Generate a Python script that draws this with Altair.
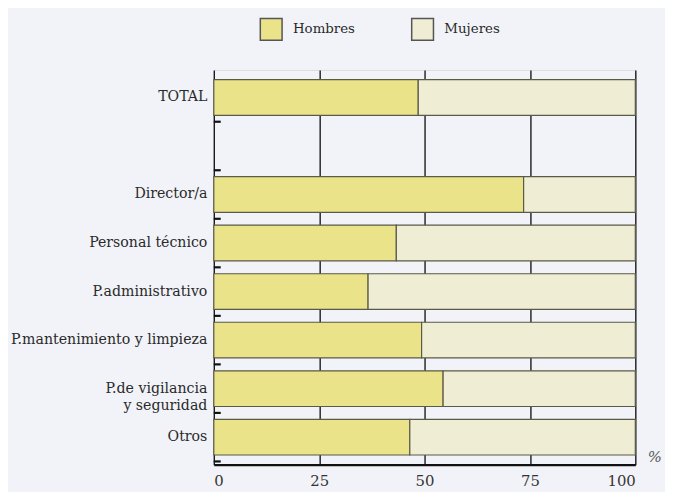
import altair as alt
import pandas as pd

categories = ["TOTAL", " ", "Director/a", "Personal técnico", "P.administrativo",
              "P.mantenimiento y limpieza", "P.de vigilancia y seguridad", "Otros"]
hombres = [48.5, None, 73.5, 43.3, 36.6, 49.3, 54.4, 46.5]
mujeres = [51.5, None, 26.5, 56.7, 63.4, 50.7, 45.6, 53.5]
series = ["Hombres", "Mujeres"]
colors = ["#ebe38a", "#efeed5"]
x_ticks = [0, 25, 50, 75, 100]

rows = []
for c, h, m in zip(categories, hombres, mujeres):
    if h is None:
        continue
    rows.append({"cat": c, "serie": "Hombres", "val": h, "idx": 0})
    rows.append({"cat": c, "serie": "Mujeres", "val": m, "idx": 1})
df = pd.DataFrame(rows)
ticks_df = pd.DataFrame({"cat": categories})

SERIF = "DejaVu Serif"

y_scale = alt.Scale(domain=categories, paddingInner=0.265, paddingOuter=0.2)

label_expr = ("datum.value == 'P.de vigilancia y seguridad' ? "
              "['P.de vigilancia', 'y seguridad'] : datum.value")

bars = alt.Chart(df).mark_bar(stroke="#5a5a48", strokeWidth=1.2).encode(
    y=alt.Y("cat:N", scale=y_scale, sort=categories, title=None,
            axis=alt.Axis(labelExpr=label_expr, labelFont=SERIF, labelFontSize=14.3,
                          labelColor="#2a2a2a", labelPadding=7, ticks=False,
                          domain=False, labelLineHeight=18, labelLimit=300)),
    x=alt.X("val:Q", stack="zero", scale=alt.Scale(domain=[0, 100], nice=False),
            title="%",
            axis=alt.Axis(values=x_ticks, grid=True, gridColor="#1a1a1a",
                          gridWidth=1.4, gridOpacity=1, domainColor="#111",
                          domainWidth=2.2, ticks=False, labelFont=SERIF,
                          labelFontSize=15, labelColor="#333", labelPadding=9,
                          titleFont=SERIF, titleFontSize=15, titleFontStyle="italic",
                          titleFontWeight="normal", titleColor="#555",
                          titleAngle=0, titleAlign="left", titleBaseline="middle",
                          titleX=438, titleY=-8)),
    color=alt.Color("serie:N", scale=alt.Scale(domain=series, range=colors),
                    legend=alt.Legend(orient="none", legendX=46, legendY=-53,
                                      direction="horizontal", title=None,
                                      symbolType="square", symbolSize=484,
                                      symbolStrokeColor="#555", symbolStrokeWidth=1.5,
                                      symbolOpacity=1, labelFont=SERIF,
                                      labelFontSize=13.5, labelColor="#2a2a2a",
                                      labelOffset=10, columnPadding=54)),
    order=alt.Order("idx:Q"),
)

left_ticks = alt.Chart(ticks_df).mark_rule(color="#111", strokeWidth=2.2, yOffset=6.5).encode(
    y=alt.Y("cat:N", scale=y_scale, sort=categories, bandPosition=1),
    x=alt.value(0),
    x2=alt.value(7),
)

chart = alt.layer(bars, left_ticks).properties(
    width=426,
    height=399,
    background="#f1f3f8",
    autosize=alt.AutoSizeParams(type="none"),
    padding={"left": 208, "top": 60, "right": 30, "bottom": 25},
).configure_view(stroke=None).configure(font=SERIF)

chart.save("out.html", embed_options={"renderer": "svg", "actions": False})
